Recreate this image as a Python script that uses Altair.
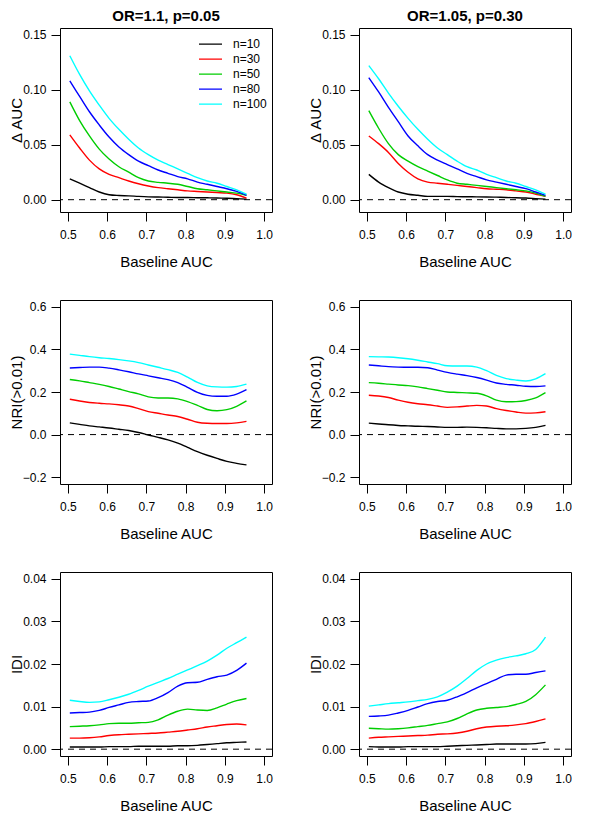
import altair as alt
import pandas as pd

# ---------------- data ----------------
auc = [0.505, 0.53, 0.555, 0.58, 0.605, 0.63, 0.655, 0.68, 0.705, 0.73,
       0.755, 0.78, 0.805, 0.83, 0.855, 0.88, 0.905, 0.93, 0.955]
groups = ["n=10", "n=30", "n=50", "n=80", "n=100"]
colors = ["#000000", "#FF0000", "#00CD00", "#0000FF", "#00FFFF"]
titles = ["OR=1.1, p=0.05", "OR=1.05, p=0.30"]

# Delta AUC, OR=1.1, p=0.05
dauc_a_n10 = [.019, .015, .011, .007, .0045, .0038, .0035, .003, .0026, .0024, .0022, .002, .002, .0018, .0017, .0015, .0013, .001, .0005]
dauc_a_n30 = [.059, .047, .036, .028, .023, .020, .017, .0145, .0125, .011, .010, .009, .008, .0075, .007, .0065, .006, .0045, .0015]
dauc_a_n50 = [.089, .072, .058, .046, .037, .030, .025, .020, .017, .0158, .015, .014, .012, .010, .009, .008, .007, .006, .004]
dauc_a_n80 = [.108, .094, .080, .068, .057, .048, .041, .035, .031, .027, .024, .021, .019, .016, .014, .012, .010, .0075, .004]
dauc_a_n100 = [.131, .114, .099, .086, .074, .064, .055, .047, .041, .036, .032, .028, .024, .020, .017, .015, .012, .009, .005]

# Delta AUC, OR=1.05, p=0.30
dauc_b_n10 = [.023, .016, .011, .007, .005, .004, .003, .003, .003, .0028, .0027, .0026, .0025, .0023, .002, .0018, .0015, .001, .0005]
dauc_b_n30 = [.058, .051, .043, .033, .025, .019, .016, .015, .014, .013, .012, .011, .010, .0095, .009, .008, .007, .005, .003]
dauc_b_n50 = [.081, .065, .051, .041, .035, .030, .026, .022, .018, .015, .014, .013, .012, .011, .010, .009, .008, .006, .003]
dauc_b_n80 = [.111, .098, .084, .071, .058, .049, .041, .036, .032, .028, .024, .021, .018, .016, .014, .012, .010, .007, .004]
dauc_b_n100 = [.122, .110, .097, .085, .074, .064, .055, .047, .041, .035, .030, .027, .023, .020, .017, .015, .012, .009, .005]

# NRI(>0.01), OR=1.1, p=0.05
nri_a_n10 = [.055, .048, .041, .036, .031, .025, .019, .010, -.002, -.013, -.025, -.040, -.060, -.080, -.097, -.112, -.126, -.135, -.142]
nri_a_n30 = [.166, .158, .151, .147, .144, .140, .134, .122, .108, .100, .092, .085, .072, .058, .053, .052, .052, .055, .062]
nri_a_n50 = [.259, .252, .244, .236, .226, .214, .202, .191, .177, .172, .172, .168, .155, .137, .118, .112, .117, .133, .158]
nri_a_n80 = [.313, .315, .317, .317, .312, .304, .295, .285, .276, .267, .258, .244, .222, .198, .184, .180, .180, .190, .211]
nri_a_n100 = [.378, .372, .366, .361, .357, .352, .346, .338, .327, .316, .305, .292, .270, .245, .229, .224, .223, .226, .237]

# NRI(>0.01), OR=1.05, p=0.30
nri_b_n10 = [.054, .050, .046, .043, .041, .039, .038, .036, .034, .034, .035, .034, .032, .029, .027, .027, .029, .034, .043]
nri_b_n30 = [.185, .181, .174, .162, .152, .145, .140, .134, .128, .130, .134, .137, .134, .122, .113, .106, .101, .102, .107]
nri_b_n50 = [.244, .241, .237, .233, .230, .224, .216, .208, .200, .198, .196, .194, .182, .162, .154, .155, .160, .172, .197]
nri_b_n80 = [.327, .323, .319, .317, .316, .316, .314, .303, .292, .284, .277, .268, .256, .242, .236, .232, .227, .226, .229]
nri_b_n100 = [.366, .365, .364, .361, .356, .349, .341, .333, .323, .322, .322, .317, .300, .278, .263, .256, .252, .262, .286]

# IDI, OR=1.1, p=0.05
idi_a_n10 = [.0005, .0005, .0005, .0005, .0006, .0006, .0006, .0007, .0007, .0007, .0007, .0008, .0008, .0009, .0011, .0013, .0015, .0016, .0017]
idi_a_n30 = [.0026, .0026, .0027, .0029, .0032, .0034, .0035, .0036, .0037, .0038, .0040, .0042, .0045, .0048, .0052, .0055, .0058, .0059, .0057]
idi_a_n50 = [.0053, .0054, .0055, .0057, .0060, .0061, .0061, .0062, .0063, .0069, .0080, .0089, .0094, .0092, .0091, .0097, .0106, .0114, .0119]
idi_a_n80 = [.0085, .0086, .0087, .0091, .0098, .0104, .0110, .0112, .0113, .0121, .0133, .0148, .0156, .0157, .0164, .0170, .0174, .0185, .0202]
idi_a_n100 = [.0115, .0112, .0110, .0111, .0116, .0122, .0129, .0138, .0148, .0157, .0166, .0176, .0186, .0196, .0207, .0221, .0237, .0250, .0263]

# IDI, OR=1.05, p=0.30
idi_b_n10 = [.0006, .0005, .0005, .0005, .0006, .0006, .0006, .0006, .0007, .0008, .0009, .0010, .0011, .0012, .0012, .0012, .0012, .0013, .0016]
idi_b_n30 = [.0026, .0028, .0029, .0030, .0031, .0032, .0033, .0035, .0036, .0038, .0042, .0048, .0052, .0054, .0055, .0057, .0060, .0065, .0071]
idi_b_n50 = [.0049, .0048, .0047, .0048, .0050, .0053, .0056, .0060, .0064, .0072, .0083, .0092, .0096, .0098, .0100, .0105, .0112, .0128, .0151]
idi_b_n80 = [.0077, .0078, .0080, .0085, .0091, .0099, .0107, .0112, .0115, .0123, .0133, .0144, .0154, .0164, .0174, .0176, .0176, .0180, .0184]
idi_b_n100 = [.0101, .0104, .0107, .0109, .0111, .0114, .0117, .0123, .0134, .0148, .0166, .0185, .0200, .0209, .0215, .0219, .0224, .0234, .0263]

x_ticks = [0.5, 0.6, 0.7, 0.8, 0.9, 1.0]
x_domain = [0.48, 1.02]

FONT = "Liberation Sans"
W, H = 212, 184


def make_panel(series, ytitle, ydomain, yticks, yfmt, title=None, legend=False):
    rows = []
    for g, vals in zip(groups, series):
        for xv, yv in zip(auc, vals):
            rows.append({"auc": xv, "val": yv, "grp": g})
    df = pd.DataFrame(rows)

    if legend:
        leg = alt.Legend(
            title=None, orient="none", legendX=138, legendY=9,
            symbolType="stroke", symbolSize=529, symbolStrokeWidth=1.4,
            labelFontSize=12, labelFont=FONT, labelColor="black",
            labelOffset=10, clipHeight=14.3, rowPadding=0, padding=0,
        )
    else:
        leg = None

    color = alt.Color(
        "grp:N",
        scale=alt.Scale(domain=groups, range=colors),
        sort=groups,
        legend=leg,
    )

    x = alt.X(
        "auc:Q",
        scale=alt.Scale(domain=x_domain, nice=False, zero=False),
        axis=alt.Axis(values=x_ticks, format=".1f", title="Baseline AUC",
                      labelPadding=8, titlePadding=14),
    )
    y = alt.Y(
        "val:Q",
        scale=alt.Scale(domain=ydomain, nice=False, zero=False),
        axis=alt.Axis(values=yticks, format=yfmt, title=ytitle,
                      labelPadding=5, titlePadding=0,
                      minExtent=36, maxExtent=36),
    )

    lines = alt.Chart(df).mark_line(strokeWidth=1.4, interpolate="monotone").encode(
        x=x, y=y, color=color, detail="grp:N"
    )
    zero = alt.Chart(pd.DataFrame({"z": [0.0]})).mark_rule(
        color="black", strokeWidth=1, strokeDash=[6, 5]
    ).encode(y=alt.Y("z:Q"))

    ch = alt.layer(lines, zero).properties(width=W, height=H)
    if title is not None:
        ch = ch.properties(title=alt.TitleParams(
            text=title, fontSize=15, fontWeight="bold", font=FONT,
            color="black", offset=4, anchor="middle"))
    return ch


dauc_dom = [-0.0112, 0.1562]
dauc_ticks = [0.0, 0.05, 0.10, 0.15]
nri_dom = [-0.232, 0.632]
nri_ticks = [-0.2, 0.0, 0.2, 0.4, 0.6]
idi_dom = [-0.0016, 0.0416]
idi_ticks = [0.0, 0.01, 0.02, 0.03, 0.04]

panels = [
    make_panel([dauc_a_n10, dauc_a_n30, dauc_a_n50, dauc_a_n80, dauc_a_n100],
               "Δ AUC", dauc_dom, dauc_ticks, ".2f", title=titles[0], legend=True),
    make_panel([dauc_b_n10, dauc_b_n30, dauc_b_n50, dauc_b_n80, dauc_b_n100],
               "Δ AUC", dauc_dom, dauc_ticks, ".2f", title=titles[1]),
    make_panel([nri_a_n10, nri_a_n30, nri_a_n50, nri_a_n80, nri_a_n100],
               "NRI(>0.01)", nri_dom, nri_ticks, ".1f"),
    make_panel([nri_b_n10, nri_b_n30, nri_b_n50, nri_b_n80, nri_b_n100],
               "NRI(>0.01)", nri_dom, nri_ticks, ".1f"),
    make_panel([idi_a_n10, idi_a_n30, idi_a_n50, idi_a_n80, idi_a_n100],
               "IDI", idi_dom, idi_ticks, ".2f"),
    make_panel([idi_b_n10, idi_b_n30, idi_b_n50, idi_b_n80, idi_b_n100],
               "IDI", idi_dom, idi_ticks, ".2f"),
]

chart = alt.concat(
    *panels, columns=2, spacing=alt.RowColnumber(row=29, column=34)
).resolve_scale(
    color="independent"
).resolve_legend(
    color="independent"
).properties(
    padding=0, background="white"
).configure(
    font=FONT
).configure_view(
    stroke="black", strokeWidth=1
).configure_axis(
    domain=False, grid=False, ticks=True, tickColor="black", tickWidth=1,
    tickSize=9, labelFontSize=12, labelColor="black", labelFont=FONT,
    titleFontSize=15, titleFontWeight="normal", titleColor="black",
    titleFont=FONT,
)

chart.save("out.html", embed_options={"renderer": "svg", "actions": False})
